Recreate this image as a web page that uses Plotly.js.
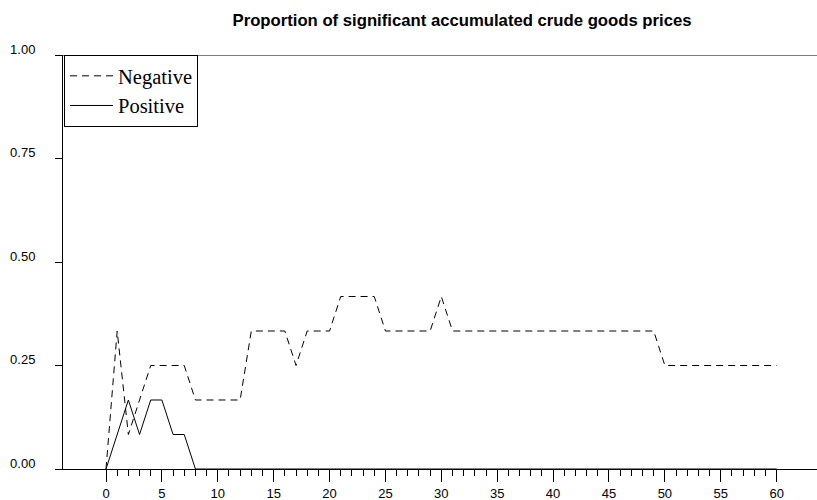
<!DOCTYPE html>
<html>
<head>
<meta charset="utf-8">
<script src="https://cdn.plot.ly/plotly-3.0.1.min.js"></script>
<style>html,body{margin:0;padding:0;background:#fff;}#chart{width:817px;height:500px;}</style>
</head>
<body>
<div id="chart"></div>
<script>
var lags = [0,1,2,3,4,5,6,7,8,9,10,11,12,13,14,15,16,17,18,19,20,
  21,22,23,24,25,26,27,28,29,30,31,32,33,34,35,36,37,38,39,40,
  41,42,43,44,45,46,47,48,49,50,51,52,53,54,55,56,57,58,59,60];
var negative = [0,0.3333,0.0833,0.1667,0.25,0.25,0.25,0.25,0.1667,0.1667,0.1667,
  0.1667,0.1667,0.3333,0.3333,0.3333,0.3333,0.25,0.3333,0.3333,0.3333,
  0.4167,0.4167,0.4167,0.4167,0.3333,0.3333,0.3333,0.3333,0.3333,0.4167,
  0.3333,0.3333,0.3333,0.3333,0.3333,0.3333,0.3333,0.3333,0.3333,0.3333,
  0.3333,0.3333,0.3333,0.3333,0.3333,0.3333,0.3333,0.3333,0.3333,0.25,
  0.25,0.25,0.25,0.25,0.25,0.25,0.25,0.25,0.25,0.25];
var positive = [0,0.0833,0.1667,0.0833,0.1667,0.1667,0.0833,0.0833,0,0,0,
  0,0,0,0,0,0,0,0,0,0,
  0,0,0,0,0,0,0,0,0,0,
  0,0,0,0,0,0,0,0,0,0,
  0,0,0,0,0,0,0,0,0,0,
  0,0,0,0,0,0,0,0,0,0];
var seriesNames = ["Negative", "Positive"];
var yTicks = [0, 0.25, 0.5, 0.75, 1];
var xTicks = [0,5,10,15,20,25,30,35,40,45,50,55,60];
var xMinorTicks = [1,2,3,4,6,7,8,9,11,12,13,14,16,17,18,19,21,22,23,24,26,27,28,29,
  31,32,33,34,36,37,38,39,41,42,43,44,46,47,48,49,51,52,53,54,56,57,58,59];
var titleText = "Proportion of significant accumulated crude goods prices";

var traces = [
  {x: lags, y: negative, name: seriesNames[0], type: "scatter", mode: "lines",
   line: {color: "#000", width: 1, dash: "7px,5px"}},
  {x: lags, y: positive, name: seriesNames[1], type: "scatter", mode: "lines",
   line: {color: "#000", width: 1}}
];

var layout = {
  width: 817, height: 500,
  margin: {l: 55, r: 0, t: 55, b: 31, pad: 0},
  paper_bgcolor: "#fff", plot_bgcolor: "#fff",
  font: {family: "Liberation Sans, Arial, sans-serif", size: 13, color: "#000"},
  title: {text: "<b>" + titleText + "</b>", x: 0.5655, xref: "container", xanchor: "center",
          y: 0.96, yref: "container", yanchor: "middle",
          font: {family: "Liberation Sans, Arial, sans-serif", size: 16.7, color: "#000"}},
  showlegend: true,
  legend: {x: 0.0118, y: 1, xanchor: "left", yanchor: "top", bgcolor: "#fff",
           bordercolor: "#000", borderwidth: 1, itemwidth: 43, entrywidth: 96,
           font: {family: "Liberation Serif, Times New Roman, serif", size: 20.5, color: "#000"}},
  xaxis: {range: [-4.563, 63.61], showgrid: false, zeroline: false, showline: true,
          linecolor: "#000", linewidth: 1, tickmode: "array", tickvals: xTicks,
          ticks: "outside", ticklen: 12, tickcolor: "#000", tickwidth: 1,
          tickfont: {size: 13},
          minor: {tickmode: "array", tickvals: xMinorTicks, ticks: "outside", ticklen: 6,
                  tickcolor: "#000", tickwidth: 1, showgrid: false}},
  yaxis: {range: [0, 1], showgrid: false, zeroline: false, showline: true,
          linecolor: "#000", linewidth: 1, anchor: "free", position: 0.0092,
          tickmode: "array", tickvals: yTicks, tickformat: ".2f",
          ticks: "outside", ticklen: 7, tickcolor: "#000", tickwidth: 1,
          ticklabelstandoff: 17, ticklabelshift: -6, tickfont: {size: 13}},
  shapes: [{type: "line", xref: "paper", yref: "y", x0: 0, x1: 1, y0: 1, y1: 1,
            line: {color: "#000", width: 1}}]
};

Plotly.newPlot("chart", traces, layout, {displayModeBar: false, staticPlot: true});
</script>
</body>
</html>
